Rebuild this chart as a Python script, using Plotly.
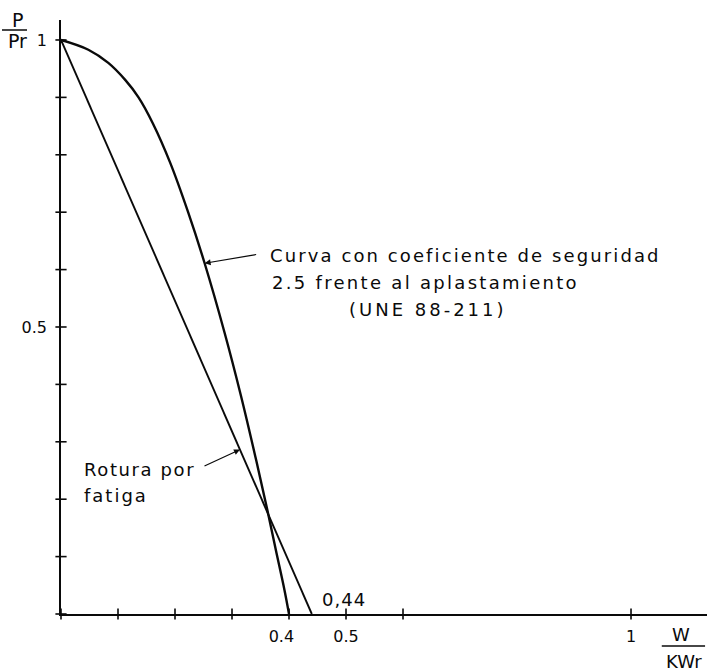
import numpy as np
import plotly.graph_objects as go

# ---- data ----
curve_w = [0.0, 0.048, 0.083, 0.113, 0.136, 0.161, 0.192, 0.223, 0.252, 0.287,
           0.316, 0.341, 0.362, 0.377, 0.392, 0.40]
curve_p = [1.0, 0.983, 0.96, 0.93, 0.90, 0.855, 0.785, 0.700, 0.611, 0.49,
           0.379, 0.274, 0.181, 0.111, 0.042, 0.0]
line_w = [0.0, 0.44]
line_p = [1.0, 0.0]

x_minor = [0.0, 0.1, 0.2, 0.3, 0.4, 0.5, 0.6, 1.0]
y_minor = [0.0, 0.1, 0.2, 0.3, 0.4, 0.5, 0.6, 0.7, 0.8, 0.9, 1.0]
x_tick_vals = [0.4, 0.5, 1.0]
x_tick_text = ["0.4\u00a0\u00a0\u00a0", "0.5", "1"]
y_tick_vals = [0.5, 1.0]
y_tick_text = ["0.5", "1"]

curve_label = ["Curva con coeficiente de seguridad",
               "2.5 frente al aplastamiento",
               "(UNE 88-211)"]
line_label = ["Rotura por", "fatiga"]
intercept_label = "0,44"

INK = "#0a0a0a"
FONT = "DejaVu Sans"

fig = go.Figure()

# tick crosses on axes
fig.add_trace(go.Scatter(x=x_minor, y=[0] * len(x_minor), mode="markers",
                         marker=dict(symbol="line-ns", size=8,
                                     line=dict(width=1.6, color=INK)),
                         hoverinfo="skip", cliponaxis=False))
fig.add_trace(go.Scatter(x=[0] * len(y_minor), y=y_minor, mode="markers",
                         marker=dict(symbol="line-ew", size=8,
                                     line=dict(width=1.6, color=INK)),
                         hoverinfo="skip", cliponaxis=False))

# fatigue line
fig.add_trace(go.Scatter(x=line_w, y=line_p, mode="lines",
                         line=dict(color=INK, width=1.9),
                         hoverinfo="skip", cliponaxis=False))
# crushing curve
fig.add_trace(go.Scatter(x=curve_w, y=curve_p, mode="lines",
                         line=dict(color=INK, width=2.4, shape="spline",
                                   smoothing=1.0),
                         hoverinfo="skip", cliponaxis=False))

ann = []
sp = lambda t, s: f'<span style="letter-spacing:{s}px">{t}</span>'

# curve labels
ann.append(dict(x=0.363, y=0.625, text=sp(curve_label[0], 2.1), xanchor="left",
                yanchor="middle", showarrow=False,
                font=dict(size=18, color=INK, family=FONT)))
ann.append(dict(x=0.367, y=0.577, text=sp(curve_label[1], 2.3), xanchor="left",
                yanchor="middle", showarrow=False,
                font=dict(size=18, color=INK, family=FONT)))
ann.append(dict(x=0.502, y=0.530, text=sp(curve_label[2], 3), xanchor="left",
                yanchor="middle", showarrow=False,
                font=dict(size=18, color=INK, family=FONT)))
# arrow to curve
ci = 8
ann.append(dict(x=curve_w[ci], y=curve_p[ci], ax=53, ay=-9, text="",
                showarrow=True, arrowhead=2, arrowsize=1, arrowwidth=1.2,
                arrowcolor=INK))

# line labels
ann.append(dict(x=0.037, y=0.251, text=sp(line_label[0], 1.6), xanchor="left",
                yanchor="middle", showarrow=False,
                font=dict(size=18, color=INK, family=FONT)))
ann.append(dict(x=0.037, y=0.207, text=sp(line_label[1], 2), xanchor="left",
                yanchor="middle", showarrow=False,
                font=dict(size=18, color=INK, family=FONT)))
aw = 0.314
ann.append(dict(x=aw, y=float(np.interp(aw, line_w, line_p)), ax=-37, ay=17,
                text="", showarrow=True, arrowhead=2, arrowsize=1,
                arrowwidth=1.2, arrowcolor=INK))

# 0,44
ann.append(dict(x=0.454, y=0.026, text=sp(intercept_label, 1), xanchor="left",
                yanchor="middle", showarrow=False,
                font=dict(size=18, color=INK, family=FONT)))

# axis title fractions
ann.append(dict(x=0, y=1, xref="paper", yref="paper", xshift=-44, yshift=0,
                text="P", showarrow=False, xanchor="center", yanchor="middle",
                font=dict(size=19, color=INK, family=FONT)))
ann.append(dict(x=0, y=1, xref="paper", yref="paper", xshift=-44, yshift=-21,
                text="Pr", showarrow=False, xanchor="center", yanchor="middle",
                font=dict(size=19, color=INK, family=FONT)))
ann.append(dict(x=0.9598, y=0, xref="paper", yref="paper", yshift=-20,
                text="W", showarrow=False, xanchor="center", yanchor="middle",
                font=dict(size=18, color=INK, family=FONT)))
ann.append(dict(x=0.9644, y=0, xref="paper", yref="paper", yshift=-47,
                text="KWr", showarrow=False, xanchor="center", yanchor="middle",
                font=dict(size=18, color=INK, family=FONT)))

shapes = [
    dict(type="line", xref="paper", yref="paper", xsizemode="pixel", xanchor=0,
         x0=-59, x1=-34, ysizemode="pixel", yanchor=1, y0=-10, y1=-10,
         line=dict(color=INK, width=1.5)),
    dict(type="line", xref="paper", yref="paper", x0=0.930, x1=0.997,
         ysizemode="pixel", yanchor=0, y0=-32, y1=-32,
         line=dict(color=INK, width=1.5)),
]

fig.update_layout(
    width=707, height=671,
    margin=dict(l=61, r=0, t=20, b=57, pad=0),
    paper_bgcolor="white", plot_bgcolor="white",
    showlegend=False,
    annotations=ann, shapes=shapes,
    font=dict(family=FONT, color=INK, size=16),
    xaxis=dict(range=[0, 1.1333], showgrid=False, zeroline=False,
               showline=True, linecolor=INK, linewidth=1.6,
               tickvals=x_tick_vals, ticktext=x_tick_text, ticks="",
               ticklabelstandoff=7, tickfont=dict(size=16, family=FONT),
               fixedrange=True),
    yaxis=dict(range=[0, 1.0348], showgrid=False, zeroline=False,
               showline=True, linecolor=INK, linewidth=1.6,
               tickvals=y_tick_vals, ticktext=y_tick_text, ticks="",
               ticklabelstandoff=9, tickfont=dict(size=16, family=FONT),
               fixedrange=True),
)

fig.write_html("out.html")
